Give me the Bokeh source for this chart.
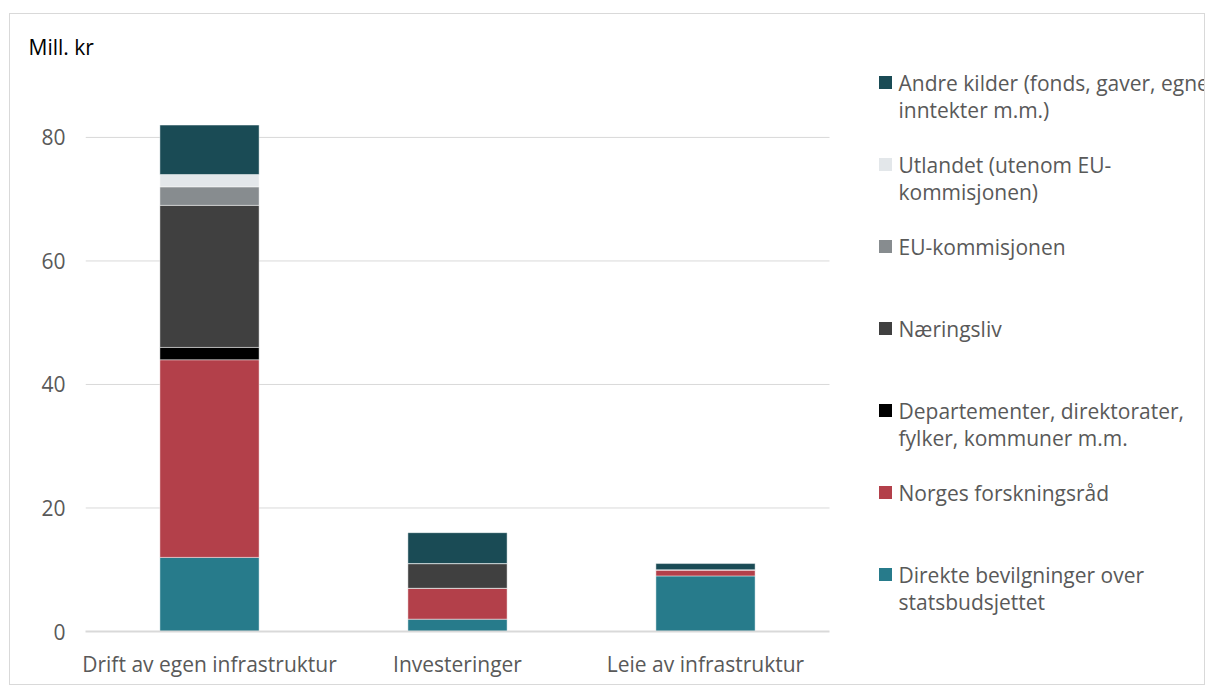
from bokeh.plotting import figure
from bokeh.models import Range1d, FixedTicker, ColumnDataSource
from bokeh.core.properties import value
from bokeh.embed import file_html
from bokeh.resources import INLINE

# ---- data ----
categories = ["Drift av egen infrastruktur", "Investeringer", "Leie av infrastruktur"]
series = [
    "Direkte bevilgninger over statsbudsjettet",
    "Norges forskningsråd",
    "Departementer, direktorater, fylker, kommuner m.m.",
    "Næringsliv",
    "EU-kommisjonen",
    "Utlandet (utenom EU-kommisjonen)",
    "Andre kilder (fonds, gaver, egne inntekter m.m.)",
]
legend_labels = [
    ["Direkte bevilgninger over", "statsbudsjettet"],
    ["Norges forskningsråd"],
    ["Departementer, direktorater,", "fylker, kommuner m.m."],
    ["Næringsliv"],
    ["EU-kommisjonen"],
    ["Utlandet (utenom EU-", "kommisjonen)"],
    ["Andre kilder (fonds, gaver, egne", "inntekter m.m.)"],
]
direkte = [12, 2, 9]
forskningsrad = [32, 5, 1]
departementer = [2, 0, 0]
naeringsliv = [23, 4, 0]
eu_kommisjonen = [3, 0, 0]
utlandet = [2, 0, 0]
andre = [8, 5, 1]
colors = ["#277b8b", "#b3404a", "#000000", "#404040", "#878c8f", "#e3e7ea", "#1a4b55"]
y_ticks = [0, 20, 40, 60, 80]
y_unit = "Mill. kr"

# ---- layout constants ----
W, H = 1196, 672
ML, MR, MT, MB = 75, 0, 55, 55
PX_PER_CAT = 248.0
frame_w = W - ML - MR
frame_h = H - MT - MB
Y_END = 91.0
PX_PER_UNIT = frame_h / Y_END
X_END = frame_w / PX_PER_CAT
FRAME_LEFT_PAGE = 85
FRAME_BOTTOM_PAGE = 631
FONT = "Open Sans"
FS = "21px"
TXT = "#595959"

keys = ["s%d" % i for i in range(len(series))]
xs = [i + 0.5 for i in range(len(categories))]
src = ColumnDataSource(dict(x=xs, **{k: v for k, v in zip(keys, [direkte, forskningsrad, departementer, naeringsliv, eu_kommisjonen, utlandet, andre])}))

p = figure(width=W, height=H, output_backend="svg", toolbar_location=None,
           x_range=Range1d(0, X_END), y_range=Range1d(0, Y_END),
           min_border_left=ML, min_border_right=MR, min_border_top=MT, min_border_bottom=MB)
p.styles = {"border": "1px solid #d9d9d9", "margin-left": "9px", "margin-top": "13px"}
p.outline_line_color = None
p.xgrid.visible = False
p.ygrid.visible = False

# gridlines (only across the category area)
n_cat = len(categories)
grid_y = [t for t in y_ticks if t > 0]
p.segment(x0=[0] * len(grid_y), x1=[n_cat] * len(grid_y), y0=grid_y, y1=grid_y,
          line_color="#d9d9d9", line_width=1)

p.vbar_stack(keys, x="x", width=0.4, source=src, color=colors,
             line_color="white", line_alpha=0.45, line_width=1)

# axes
p.xaxis.ticker = FixedTicker(ticks=xs)
p.xaxis.major_label_overrides = {x: c for x, c in zip(xs, categories)}
p.xaxis.bounds = (0, n_cat)
p.xaxis.axis_line_color = "#d9d9d9"
p.xaxis.axis_line_width = 2
p.xaxis.major_tick_line_color = None
p.xaxis.minor_tick_line_color = None
p.xaxis.major_tick_out = 0
p.xaxis.major_tick_in = 0
p.xaxis.major_label_standoff = 18
p.xaxis.major_label_text_font = FONT
p.xaxis.major_label_text_font_size = FS
p.xaxis.major_label_text_color = TXT

p.yaxis.ticker = FixedTicker(ticks=y_ticks)
p.yaxis.axis_line_color = None
p.yaxis.major_tick_line_color = None
p.yaxis.minor_tick_line_color = None
p.yaxis.major_tick_out = 0
p.yaxis.major_tick_in = 0
p.yaxis.major_label_standoff = 20
p.yaxis.major_label_text_font = FONT
p.yaxis.major_label_text_font_size = FS
p.yaxis.major_label_text_color = TXT

# unit title
p.title.text = y_unit
p.title.align = "left"
p.title.offset = -57
p.title.text_font = FONT
p.title.text_font_size = FS
p.title.text_font_style = "normal"
p.title.text_color = "#000000"
p.title.standoff = 17


def page_to_y(py):
    return (FRAME_BOTTOM_PAGE - py) / PX_PER_UNIT


def page_to_x(px):
    return (px - FRAME_LEFT_PAGE) / PX_PER_CAT


# custom legend (top to bottom = reverse stacking order)
leg_first, leg_step_px, line_step_px = 82, 82, 27
sq_x = page_to_x(885)
tx_x = page_to_x(898)
sq_y, sq_c, t_x, t_y, t_s = [], [], [], [], []
for i, idx in enumerate(reversed(range(len(series)))):
    py = leg_first + i * leg_step_px
    sq_y.append(page_to_y(py))
    sq_c.append(colors[idx])
    for j, line in enumerate(legend_labels[idx]):
        t_x.append(tx_x)
        t_y.append(page_to_y(py + j * line_step_px))
        t_s.append(line)
p.scatter(x=[sq_x] * len(sq_y), y=sq_y, marker="square", size=13, color=sq_c, line_color=None)
p.text(x=t_x, y=t_y, text=t_s, text_font=value(FONT), text_font_size=FS,
       text_color=TXT, text_baseline="middle", text_align="left")

open("out.html", "w").write(file_html(p, INLINE))
